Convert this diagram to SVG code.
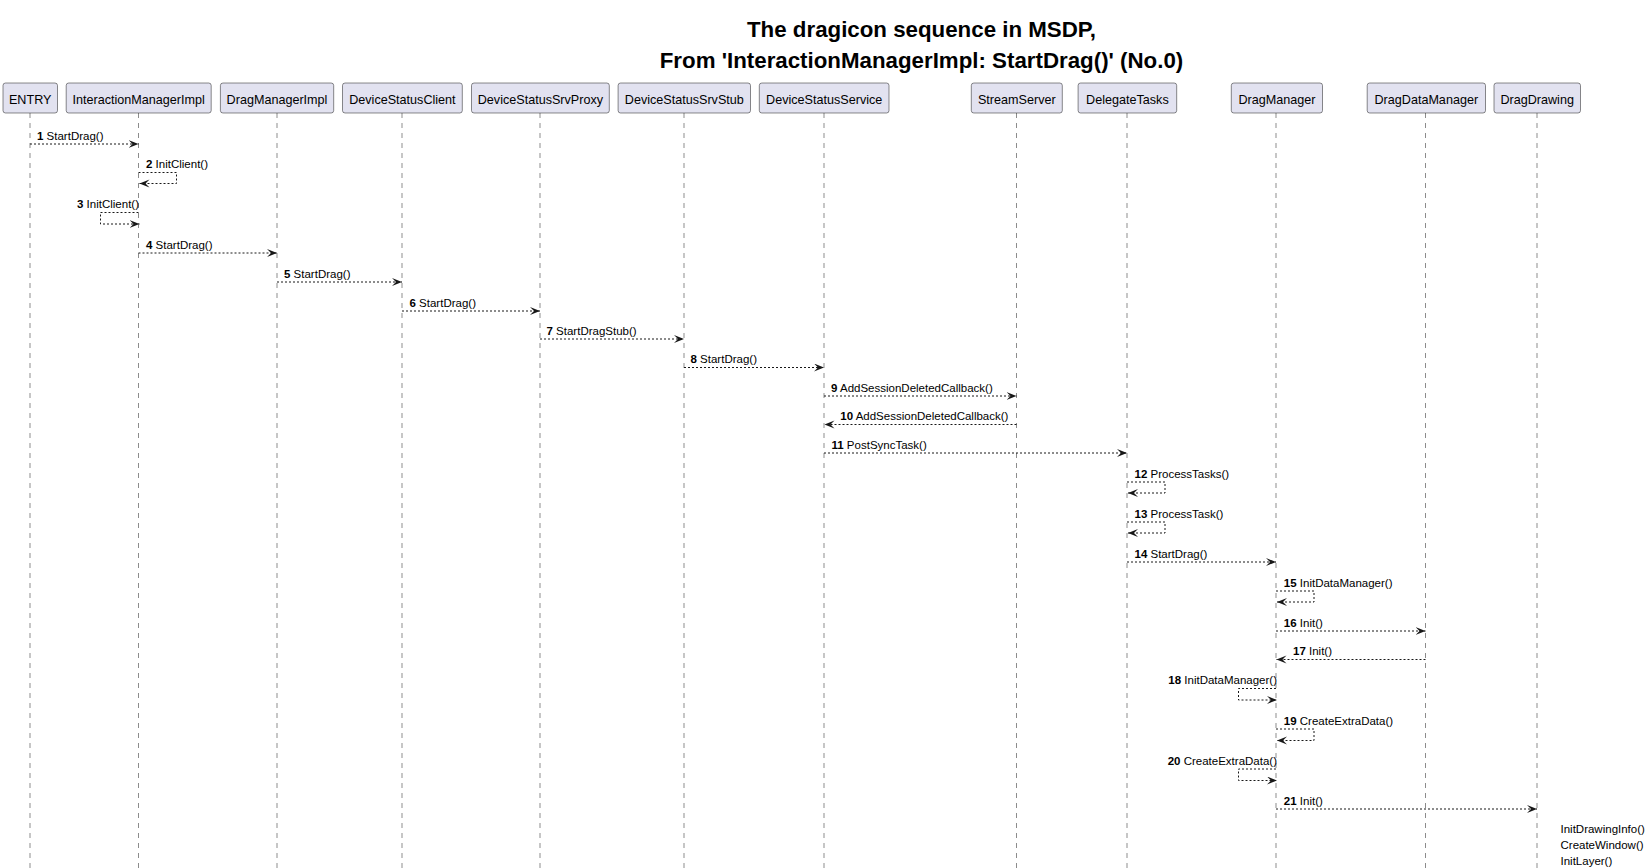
<svg xmlns="http://www.w3.org/2000/svg" width="1652" height="868" viewBox="0 0 1652 868">
<style>
.title{font-family:"Liberation Sans",Arial,sans-serif;font-weight:bold;font-size:22.3px;fill:#000;text-anchor:middle}
.pbox{fill:#E2E2F0;stroke:#181818;stroke-width:0.5}
.ptxt{font-family:"Liberation Sans",Arial,sans-serif;font-size:12.6px;fill:#000;text-anchor:middle}
.life{stroke:#181818;stroke-width:0.5;stroke-dasharray:5,5;fill:none}
.msg{stroke:#181818;stroke-width:1;stroke-dasharray:2,2;fill:none;marker-end:url(#ah)}
.lbl{font-family:"Liberation Sans",Arial,sans-serif;font-size:11.5px;fill:#000}
.end{text-anchor:end}
.n{font-weight:bold}
</style>
<defs>
<marker id="ah" markerUnits="userSpaceOnUse" markerWidth="11" markerHeight="9" refX="10" refY="4" orient="auto" viewBox="0 0 11 9">
<path d="M0,0 L10,4 L0,8 L4,4 Z" fill="#181818"/>
</marker>
</defs>
<rect width="1652" height="868" fill="#fff"/>
<text class="title" x="921.5" y="36.5">The dragicon sequence in MSDP,</text>
<text class="title" x="921.5" y="67.5">From 'InteractionManagerImpl: StartDrag()' (No.0)</text>

<g id="lifelines">
<line class="life" x1="30" y1="113" x2="30" y2="868"/>
<line class="life" x1="138.5" y1="113" x2="138.5" y2="868"/>
<line class="life" x1="277" y1="113" x2="277" y2="868"/>
<line class="life" x1="402" y1="113" x2="402" y2="868"/>
<line class="life" x1="540" y1="113" x2="540" y2="868"/>
<line class="life" x1="684" y1="113" x2="684" y2="868"/>
<line class="life" x1="824" y1="113" x2="824" y2="868"/>
<line class="life" x1="1016.5" y1="113" x2="1016.5" y2="868"/>
<line class="life" x1="1127" y1="113" x2="1127" y2="868"/>
<line class="life" x1="1276" y1="113" x2="1276" y2="868"/>
<line class="life" x1="1425.5" y1="113" x2="1425.5" y2="868"/>
<line class="life" x1="1537" y1="113" x2="1537" y2="868"/>
</g>

<g id="ENTRY"><rect class="pbox" x="3" y="83" width="54.5" height="30" rx="2.5"/><text class="ptxt" x="30.2" y="104">ENTRY</text></g>
<g id="InteractionManagerImpl"><rect class="pbox" x="66.2" y="83" width="145" height="30" rx="2.5"/><text class="ptxt" x="138.7" y="104">InteractionManagerImpl</text></g>
<g id="DragManagerImpl"><rect class="pbox" x="220.4" y="83" width="113.3" height="30" rx="2.5"/><text class="ptxt" x="277" y="104">DragManagerImpl</text></g>
<g id="DeviceStatusClient"><rect class="pbox" x="342.5" y="83" width="119.8" height="30" rx="2.5"/><text class="ptxt" x="402.4" y="104">DeviceStatusClient</text></g>
<g id="DeviceStatusSrvProxy"><rect class="pbox" x="471.5" y="83" width="137.8" height="30" rx="2.5"/><text class="ptxt" x="540.4" y="104">DeviceStatusSrvProxy</text></g>
<g id="DeviceStatusSrvStub"><rect class="pbox" x="618.1" y="83" width="132.4" height="30" rx="2.5"/><text class="ptxt" x="684.3" y="104">DeviceStatusSrvStub</text></g>
<g id="DeviceStatusService"><rect class="pbox" x="759.3" y="83" width="129.7" height="30" rx="2.5"/><text class="ptxt" x="824.2" y="104">DeviceStatusService</text></g>
<g id="StreamServer"><rect class="pbox" x="971.3" y="83" width="91" height="30" rx="2.5"/><text class="ptxt" x="1016.8" y="104">StreamServer</text></g>
<g id="DelegateTasks"><rect class="pbox" x="1078.1" y="83" width="98.6" height="30" rx="2.5"/><text class="ptxt" x="1127.4" y="104">DelegateTasks</text></g>
<g id="DragManager"><rect class="pbox" x="1231.3" y="83" width="91.2" height="30" rx="2.5"/><text class="ptxt" x="1276.9" y="104">DragManager</text></g>
<g id="DragDataManager"><rect class="pbox" x="1367.2" y="83" width="118.3" height="30" rx="2.5"/><text class="ptxt" x="1426.3" y="104">DragDataManager</text></g>
<g id="DragDrawing"><rect class="pbox" x="1494" y="83" width="86.5" height="30" rx="2.5"/><text class="ptxt" x="1537.2" y="104">DragDrawing</text></g>

<g id="connectors">
<line class="msg" x1="30" y1="144" x2="138.5" y2="144"/>
<polyline class="msg" points="138.5,172.5 176.5,172.5 176.5,183.5 139.5,183.5"/>
<polyline class="msg" points="138.5,212.5 100.5,212.5 100.5,224 139.5,224"/>
<line class="msg" x1="138.5" y1="253" x2="277" y2="253"/>
<line class="msg" x1="277" y1="282" x2="402" y2="282"/>
<line class="msg" x1="402" y1="311" x2="540" y2="311"/>
<line class="msg" x1="540" y1="339" x2="684" y2="339"/>
<line class="msg" x1="684" y1="367.5" x2="824" y2="367.5"/>
<line class="msg" x1="824" y1="396" x2="1016.5" y2="396"/>
<line class="msg" x1="1016.5" y1="424.5" x2="824.5" y2="424.5"/>
<line class="msg" x1="824" y1="453" x2="1127" y2="453"/>
<polyline class="msg" points="1127,482 1165,482 1165,493 1128,493"/>
<polyline class="msg" points="1127,522 1165,522 1165,533 1128,533"/>
<line class="msg" x1="1127" y1="562" x2="1276" y2="562"/>
<polyline class="msg" points="1276,591 1314,591 1314,602 1277,602"/>
<line class="msg" x1="1276" y1="631" x2="1425.5" y2="631"/>
<line class="msg" x1="1425.5" y1="659.5" x2="1276.5" y2="659.5"/>
<polyline class="msg" points="1276,688.5 1238.5,688.5 1238.5,700 1277,700"/>
<polyline class="msg" points="1276,729 1314,729 1314,740.5 1277,740.5"/>
<polyline class="msg" points="1276,769 1238.5,769 1238.5,780.5 1277,780.5"/>
<line class="msg" x1="1276" y1="809" x2="1537" y2="809"/>
</g>

<g id="labels">
<text class="lbl" x="37" y="140"><tspan class="n">1</tspan> StartDrag()</text>
<text class="lbl" x="146" y="168"><tspan class="n">2</tspan> InitClient()</text>
<text class="lbl end" x="139" y="208"><tspan class="n">3</tspan> InitClient()</text>
<text class="lbl" x="146" y="248.5"><tspan class="n">4</tspan> StartDrag()</text>
<text class="lbl" x="284" y="277.5"><tspan class="n">5</tspan> StartDrag()</text>
<text class="lbl" x="409.5" y="306.5"><tspan class="n">6</tspan> StartDrag()</text>
<text class="lbl" x="546.5" y="334.5"><tspan class="n">7</tspan> StartDragStub()</text>
<text class="lbl" x="690.5" y="363"><tspan class="n">8</tspan> StartDrag()</text>
<text class="lbl" x="831" y="391.5"><tspan class="n">9</tspan> AddSessionDeletedCallback()</text>
<text class="lbl" x="840.3" y="420"><tspan class="n">10</tspan> AddSessionDeletedCallback()</text>
<text class="lbl" x="831.5" y="448.5"><tspan class="n">11</tspan> PostSyncTask()</text>
<text class="lbl" x="1134.5" y="477.5"><tspan class="n">12</tspan> ProcessTasks()</text>
<text class="lbl" x="1134.5" y="517.5"><tspan class="n">13</tspan> ProcessTask()</text>
<text class="lbl" x="1134.5" y="557.5"><tspan class="n">14</tspan> StartDrag()</text>
<text class="lbl" x="1283.8" y="586.5"><tspan class="n">15</tspan> InitDataManager()</text>
<text class="lbl" x="1283.8" y="626.5"><tspan class="n">16</tspan> Init()</text>
<text class="lbl" x="1293" y="655"><tspan class="n">17</tspan> Init()</text>
<text class="lbl end" x="1277" y="684"><tspan class="n">18</tspan> InitDataManager()</text>
<text class="lbl" x="1283.8" y="724.5"><tspan class="n">19</tspan> CreateExtraData()</text>
<text class="lbl end" x="1277" y="764.5"><tspan class="n">20</tspan> CreateExtraData()</text>
<text class="lbl" x="1283.8" y="804.5"><tspan class="n">21</tspan> Init()</text>
</g>

<g id="DragDrawing-notes">
<text class="lbl" x="1560.5" y="833">InitDrawingInfo()</text>
<text class="lbl" x="1560.5" y="849">CreateWindow()</text>
<text class="lbl" x="1560.5" y="865">InitLayer()</text>
</g>
</svg>
